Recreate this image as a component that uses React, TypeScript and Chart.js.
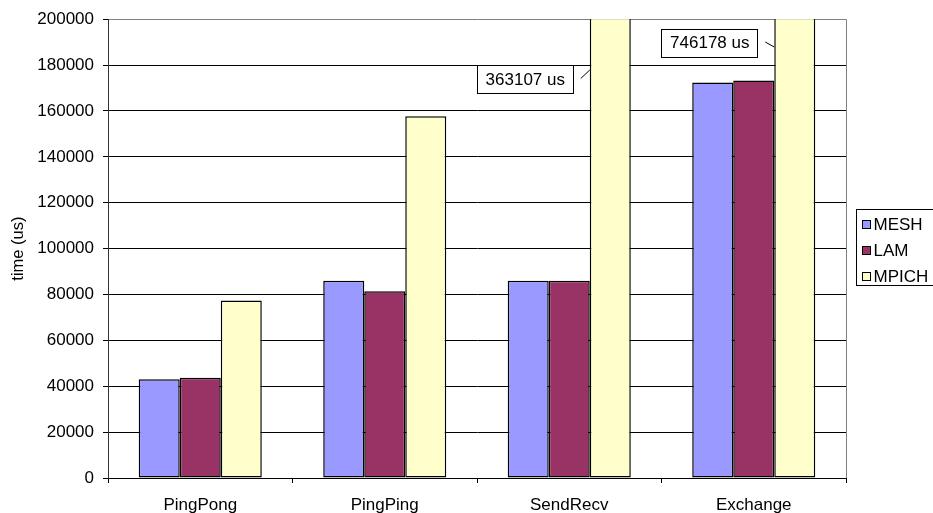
import React, { useEffect, useRef } from 'react';
import { Chart, registerables } from 'chart.js';

Chart.register(...registerables);

const categories = ['PingPong', 'PingPing', 'SendRecv', 'Exchange'];
const seriesNames = ['MESH', 'LAM', 'MPICH'];
const meshValues = [43100, 86000, 86000, 172400];
const lamValues = [43700, 81400, 86000, 173300];
const mpichValues = [77400, 157700, 363107, 746178];
const yTickValues = [0, 20000, 40000, 60000, 80000, 100000, 120000, 140000, 160000, 180000, 200000];
const yAxisTitle = 'time (us)';
const calloutUnit = 'us';

const FONT = '"Liberation Sans", Arial, Helvetica, sans-serif';
const colors = ['#9999FF', '#993366', '#FFFFCC'];

const calloutStyle: Record<number, { top: number; endDy: number }> = {
  2: { top: 65, endDy: 5 },
  3: { top: 28.5, endDy: 18.5 },
};

const boxLegendPlugin = {
  id: 'boxLegend',
  afterDraw(chart: any) {
    const ctx = chart.ctx;
    const area = chart.chartArea;
    const left = area.right + 10.5;
    const top = 209.5;
    const w = 80;
    const h = 76;
    ctx.save();
    ctx.fillStyle = '#fff';
    ctx.fillRect(left, top, w, h);
    ctx.strokeStyle = '#000';
    ctx.lineWidth = 1;
    ctx.strokeRect(left, top, w, h);
    ctx.font = `17px ${FONT}`;
    ctx.textBaseline = 'middle';
    chart.data.datasets.forEach((ds: any, i: number) => {
      const cy = top + 15 + i * 26;
      ctx.fillStyle = ds.backgroundColor;
      ctx.fillRect(left + 6, cy - 4, 8, 8);
      ctx.strokeStyle = '#000';
      ctx.strokeRect(left + 6, cy - 4, 8, 8);
      ctx.fillStyle = '#000';
      ctx.fillText(ds.label, left + 17, cy + 0.5);
    });
    ctx.restore();
  },
};

const calloutPlugin = {
  id: 'callouts',
  afterDraw(chart: any) {
    const ctx = chart.ctx;
    const yScale = chart.scales.y;
    const dsIndex = 2;
    const meta = chart.getDatasetMeta(dsIndex);
    const values = chart.data.datasets[dsIndex].data as number[];
    ctx.save();
    values.forEach((v: number, i: number) => {
      if (v <= yScale.max) return;
      const st = calloutStyle[i];
      if (!st) return;
      const bar = meta.data[i];
      const { x, width } = bar.getProps(['x', 'width'], true);
      const barLeft = x - width / 2;
      const boxW = 96;
      const boxH = 28;
      const boxRight = barLeft - 17;
      const boxLeft = boxRight - boxW;
      const top = st.top;
      ctx.fillStyle = '#fff';
      ctx.fillRect(Math.round(boxLeft) + 0.5, Math.round(top) + 0.5, boxW, boxH);
      ctx.strokeStyle = '#000';
      ctx.lineWidth = 1;
      ctx.strokeRect(Math.round(boxLeft) + 0.5, Math.round(top) + 0.5, boxW, boxH);
      ctx.fillStyle = '#000';
      ctx.font = `17px ${FONT}`;
      ctx.textAlign = 'center';
      ctx.textBaseline = 'middle';
      ctx.fillText(`${v} ${calloutUnit}`, boxLeft + boxW / 2 + 0.5, top + boxH / 2 + 1);
      ctx.beginPath();
      ctx.moveTo(boxRight + 8, top + 13.5);
      ctx.lineTo(barLeft, top + st.endDy);
      ctx.stroke();
    });
    ctx.restore();
  },
};

const plotBorderPlugin = {
  id: 'plotBorder',
  beforeDatasetsDraw(chart: any) {
    const { ctx, chartArea } = chart;
    ctx.save();
    ctx.strokeStyle = '#808080';
    ctx.lineWidth = 1;
    ctx.beginPath();
    ctx.moveTo(Math.round(chartArea.right) + 0.5, chartArea.bottom);
    ctx.lineTo(Math.round(chartArea.right) + 0.5, chartArea.top);
    ctx.stroke();
    ctx.restore();
  },
};

export default function App() {
  const canvasRef = useRef<HTMLCanvasElement | null>(null);

  useEffect(() => {
    const canvas = canvasRef.current;
    if (!canvas) return;
    const data = [meshValues, lamValues, mpichValues];
    const chart = new Chart(canvas, {
      type: 'bar',
      data: {
        labels: categories,
        datasets: seriesNames.map((name, i) => ({
          label: name,
          data: data[i],
          backgroundColor: colors[i],
          borderColor: '#000',
          borderWidth: 1.5,
          borderSkipped: false,
          categoryPercentage: 0.667,
          barPercentage: 1,
          clip: { top: 0, left: false, right: false, bottom: false } as any,
        })),
      },
      options: {
        responsive: false,
        animation: false,
        layout: { padding: { top: 17, right: 87, left: 0, bottom: 0 } },
        plugins: {
          legend: { display: false },
          tooltip: { enabled: false },
        },
        scales: {
          x: {
            offset: true,
            grid: {
              offset: true,
              drawOnChartArea: false,
              drawTicks: true,
              tickLength: 5,
              tickColor: '#000',
            },
            border: { color: '#000', width: 1 },
            ticks: {
              color: '#000',
              font: { family: FONT, size: 17 },
              padding: 12,
            },
            afterFit(scale: any) {
              scale.height = 35;
            },
          },
          y: {
            min: 0,
            max: 200000,
            afterBuildTicks(scale: any) {
              scale.ticks = yTickValues.map((v) => ({ value: v }));
            },
            grid: {
              color: (c: any) => (c.tick && c.tick.value === 200000 ? '#808080' : '#000'),
              tickColor: '#000',
              tickLength: 5,
            },
            border: { color: '#333', width: 1 },
            ticks: {
              color: '#000',
              font: { family: FONT, size: 17 },
              padding: 9,
              callback: (v: any) => String(v),
            },
            title: {
              display: true,
              text: yAxisTitle,
              color: '#000',
              font: { family: FONT, size: 16.5 },
              padding: { top: 9, bottom: 0 },
            },
            afterFit(scale: any) {
              scale.width = 108;
            },
          },
        },
      },
      plugins: [plotBorderPlugin, calloutPlugin, boxLegendPlugin],
    });
    return () => chart.destroy();
  }, []);

  return (
    <div style={{ position: 'fixed', left: 0, top: 0, width: 933, height: 513, background: '#fff' }}>
      <canvas ref={canvasRef} width={933} height={513} />
    </div>
  );
}
